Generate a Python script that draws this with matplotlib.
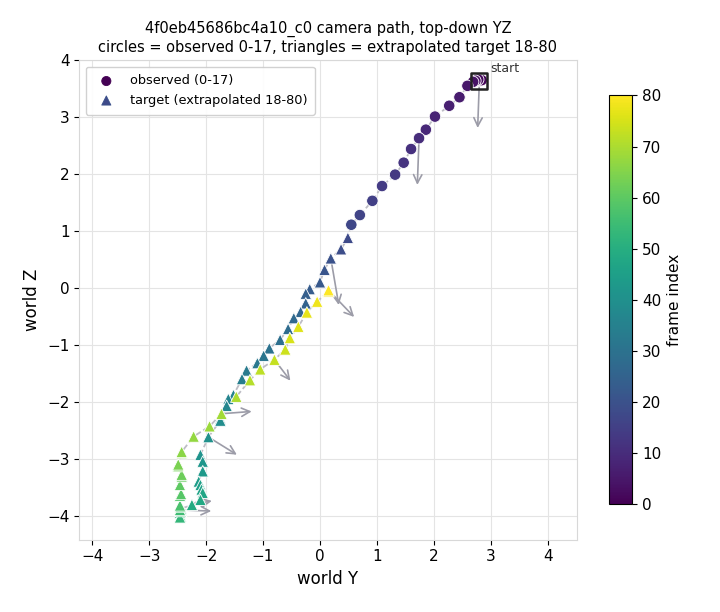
import matplotlib
matplotlib.use("Agg")
import matplotlib.pyplot as plt
import numpy as np

# observed frames 0-17 (world Y, world Z)
obs_y = [2.80, 2.84, 2.78, 2.73, 2.69, 2.59, 2.45, 2.27, 2.02, 1.86,
         1.74, 1.60, 1.47, 1.32, 1.09, 0.92, 0.70, 0.55]
obs_z = [3.64, 3.65, 3.66, 3.64, 3.62, 3.55, 3.35, 3.20, 3.01, 2.78,
         2.63, 2.44, 2.20, 1.99, 1.79, 1.53, 1.28, 1.11]

# extrapolated target frames 18-80
tgt_y = [0.49, 0.37, 0.19, 0.08, 0.00, -0.18, -0.25, -0.25, -0.34, -0.46,
         -0.56, -0.70, -0.89, -0.99, -1.10, -1.29, -1.37, -1.52, -1.61, -1.64,
         -1.75, -1.75, -1.96, -2.10, -2.06, -2.06, -2.13, -2.10, -2.08, -2.06,
         -2.10, -2.25, -2.44, -2.46, -2.45, -2.46, -2.44, -2.46, -2.45, -2.46,
         -2.46, -2.44, -2.46, -2.43, -2.43, -2.49, -2.49, -2.43, -2.43, -2.22,
         -1.94, -1.73, -1.47, -1.23, -1.05, -0.80, -0.61, -0.53, -0.38, -0.23,
         -0.05, 0.15, 0.15]
tgt_z = [0.88, 0.68, 0.52, 0.32, 0.10, -0.02, -0.10, -0.27, -0.42, -0.53,
         -0.72, -0.91, -1.06, -1.19, -1.32, -1.45, -1.60, -1.88, -1.95, -2.07,
         -2.30, -2.33, -2.62, -2.93, -3.05, -3.22, -3.40, -3.46, -3.54, -3.60,
         -3.72, -3.81, -3.88, -3.95, -4.01, -4.03, -3.92, -3.90, -3.84, -3.82,
         -3.65, -3.62, -3.46, -3.31, -3.28, -3.13, -3.10, -2.90, -2.88, -2.61,
         -2.43, -2.21, -1.91, -1.62, -1.43, -1.26, -1.08, -0.88, -0.68, -0.43,
         -0.24, -0.06, -0.04]

# camera heading arrows: frame index, dY, dZ
arrow_frames = [0, 10, 20, 40, 49, 55, 69, 73, 80]
arrow_dy = [-0.03, -0.03, 0.14, 0.50, 0.35, 0.55, 0.53, 0.28, 0.45]
arrow_dz = [-0.83, -0.82, -0.82, -0.31, 0.07, -0.02, 0.04, -0.37, -0.47]

all_y = np.array(obs_y + tgt_y)
all_z = np.array(obs_z + tgt_z)
frames = np.arange(len(all_y))
n_obs = len(obs_y)

fig = plt.figure(figsize=(7.2, 6.12), dpi=100)
ax = fig.add_axes([0.110, 0.118, 0.691, 0.784])
cax = fig.add_axes([0.846, 0.176, 0.032, 0.668])

ax.plot(all_y, all_z, ls="--", color="#bdbdc5", lw=1.3, zorder=1)

for f, dy, dz in zip(arrow_frames, arrow_dy, arrow_dz):
    ax.annotate("", xy=(all_y[f] + dy, all_z[f] + dz), xytext=(all_y[f], all_z[f]),
                arrowprops=dict(arrowstyle="->", color="#9c9ca8", lw=1.2,
                                mutation_scale=15, shrinkA=0, shrinkB=0),
                zorder=2)

sc = ax.scatter(all_y[:n_obs], all_z[:n_obs], c=frames[:n_obs], cmap="viridis",
                vmin=0, vmax=80, marker="o", s=68, edgecolors="white",
                linewidths=0.6, zorder=3, label="observed (0-17)")
ax.scatter(all_y[n_obs:], all_z[n_obs:], c=frames[n_obs:], cmap="viridis",
           vmin=0, vmax=80, marker="^", s=68, edgecolors="white",
           linewidths=0.6, zorder=3, label="target (extrapolated 18-80)")

ax.scatter([all_y[0]], [all_z[0]], marker="s", s=130, facecolors="none",
           edgecolors="#222222", linewidths=1.8, zorder=4)
ax.annotate("start", xy=(all_y[0], all_z[0]), xytext=(8, 6),
            textcoords="offset points", fontsize=9, color="#333333")

ax.set_xlim(-4.23, 4.51)
ax.set_ylim(-4.42, 4.0)
ax.set_aspect("equal")
ax.set_xticks(range(-4, 5))
ax.set_yticks(range(-4, 5))
ax.grid(True, color="#e4e4e4", lw=0.8)
ax.set_axisbelow(True)
for s in ax.spines.values():
    s.set_color("#d8d8d8")
ax.tick_params(labelsize=11)
ax.set_xlabel("world Y", fontsize=12)
ax.set_ylabel("world Z", fontsize=12)
ax.set_title("4f0eb45686bc4a10_c0 camera path, top-down YZ\n"
             "circles = observed 0-17, triangles = extrapolated target 18-80",
             fontsize=10.5)

leg = ax.legend(loc="upper left", fontsize=9.3, framealpha=0.9,
                edgecolor="#cccccc", borderpad=0.6, markerscale=0.8)
leg.legend_handles[0].set_color(plt.cm.viridis(0.0))
leg.legend_handles[1].set_color(plt.cm.viridis(0.25))

cb = fig.colorbar(sc, cax=cax)
cb.set_label("frame index", fontsize=11)
cb.set_ticks(range(0, 81, 10))
cb.ax.tick_params(labelsize=11)

fig.savefig("out.png", dpi=100)
